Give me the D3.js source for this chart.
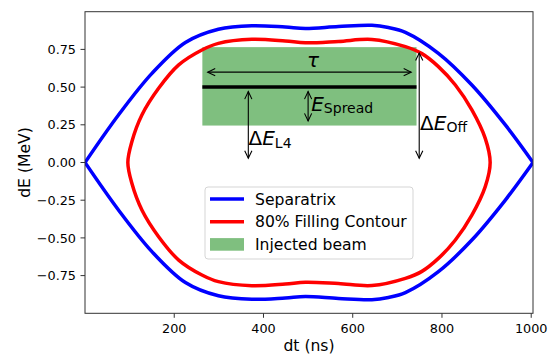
<!DOCTYPE html>
<html>
<head>
<meta charset="utf-8">
<script src="https://cdn.jsdelivr.net/npm/d3@7"></script>
<style>
  body { margin: 0; background: #fff; }
  svg { display: block; font-family: "DejaVu Sans", sans-serif; }
</style>
</head>
<body>
<svg id="chart" width="550" height="355"></svg>
<script>
// separatrix
const sepDt    = [0, 75, 150, 225, 299, 374, 449, 494, 568, 643, 680, 718, 792, 867, 942, 1004];
const sepUpper = [0, 0.315, 0.591, 0.796, 0.884, 0.907, 0.898, 0.889, 0.902, 0.910, 0.895, 0.863, 0.724, 0.514, 0.249, 0];
const sepLower = [0, -0.315, -0.591, -0.796, -0.884, -0.907, -0.898, -0.889, -0.902, -0.910, -0.895, -0.863, -0.724, -0.514, -0.249, 0];

// 80% filling contour
const contDt    = [96, 105, 127.5, 165, 210, 262, 299, 374, 449, 494, 568, 643, 718, 755, 792, 830, 867, 897, 908];
const contUpper = [0, 0.138, 0.315, 0.492, 0.647, 0.746, 0.790, 0.817, 0.806, 0.794, 0.803, 0.816, 0.768, 0.722, 0.636, 0.514, 0.349, 0.16, 0];
const contLower = [0, -0.138, -0.315, -0.492, -0.647, -0.746, -0.790, -0.817, -0.806, -0.794, -0.803, -0.816, -0.768, -0.722, -0.636, -0.514, -0.349, -0.16, 0];

// injected beam
const beamDt = [263, 743];
const beamDE = [0.245, 0.765];
const beamCentre = 0.5;

// annotation arrows [dt1, dE1, dt2, dE2]
const arrows = [
  [275, 0.599, 731, 0.599],   // tau
  [500, 0.470, 500, 0.276],   // E spread
  [366, 0.470, 366, 0.028],   // dE L4
  [749, 0.726, 749, 0.028]    // dE off
];
const labels = [
  {dt: 511, dE: 0.635, main: "τ", sub: "", anchor: "middle", delta: false},
  {dt: 507, dE: 0.342, main: "E", sub: "Spread", anchor: "start", delta: false},
  {dt: 366.5, dE: 0.116, main: "E", sub: "L4", anchor: "start", delta: true},
  {dt: 751, dE: 0.216, main: "E", sub: "Off", anchor: "start", delta: true}
];

const xTicks = [200, 400, 600, 800, 1000];
const yTicks = [-0.75, -0.5, -0.25, 0, 0.25, 0.5, 0.75];
const legendItems = ["Separatrix", "80% Filling Contour", "Injected beam"];

const svg = d3.select("#chart");
const mLeft = 85, mRight = 533, mTop = 11.7, mBottom = 313.3;

const x = d3.scaleLinear().domain([0, 1004]).range([mLeft, mRight]);
const y = d3.scaleLinear().domain([-1, 1]).range([mBottom, mTop]);

svg.append("clipPath").attr("id", "clip")
  .append("rect").attr("x", mLeft).attr("y", mTop).attr("width", mRight - mLeft).attr("height", mBottom - mTop);

const plot = svg.append("g").attr("clip-path", "url(#clip)");

// green beam area
plot.append("rect")
  .attr("x", x(beamDt[0])).attr("y", y(beamDE[1]))
  .attr("width", x(beamDt[1]) - x(beamDt[0]))
  .attr("height", y(beamDE[0]) - y(beamDE[1]))
  .attr("fill", "green").attr("fill-opacity", 0.5);

const line = d3.line().x(d => x(d[0])).y(d => y(d[1])).curve(d3.curveCatmullRom);
const closed = d3.line().x(d => x(d[0])).y(d => y(d[1])).curve(d3.curveCatmullRomClosed);

// separatrix, two branches
[sepUpper, sepLower].forEach(branch => {
  plot.append("path")
    .attr("d", line(sepDt.map((t, i) => [t, branch[i]])))
    .attr("fill", "none").attr("stroke", "#0000ff").attr("stroke-width", 3.5);
});

// filling contour as a closed loop
const loop = contDt.map((t, i) => [t, contUpper[i]])
  .concat(contDt.map((t, i) => [t, contLower[i]]).slice(1, -1).reverse());
plot.append("path")
  .attr("d", closed(loop))
  .attr("fill", "none").attr("stroke", "#ff0000").attr("stroke-width", 3.5);

// beam centre line
plot.append("line")
  .attr("x1", x(beamDt[0])).attr("x2", x(beamDt[1]))
  .attr("y1", y(beamCentre)).attr("y2", y(beamCentre))
  .attr("stroke", "#000").attr("stroke-width", 3.5);

// double headed arrows
function head(g, px, py, ang) {
  const len = 7.5, hw = 3.6;
  const ca = Math.cos(ang), sa = Math.sin(ang);
  const bx = px - len * ca, by = py - len * sa;
  g.append("path")
    .attr("d", `M${bx - hw * sa},${by + hw * ca}L${px},${py}L${bx + hw * sa},${by - hw * ca}`)
    .attr("fill", "none").attr("stroke", "#000").attr("stroke-width", 1.1);
}
arrows.forEach(a => {
  const x1 = x(a[0]), y1 = y(a[1]), x2 = x(a[2]), y2 = y(a[3]);
  const g = svg.append("g");
  g.append("line").attr("x1", x1).attr("y1", y1).attr("x2", x2).attr("y2", y2)
    .attr("stroke", "#000").attr("stroke-width", 1.1);
  const ang = Math.atan2(y2 - y1, x2 - x1);
  head(g, x2, y2, ang);
  head(g, x1, y1, ang + Math.PI);
});

labels.forEach(l => {
  const t = svg.append("text")
    .attr("x", x(l.dt)).attr("y", y(l.dE))
    .attr("text-anchor", l.anchor)
    .attr("font-size", 20).attr("fill", "#000");
  if (l.delta) t.append("tspan").text("Δ");
  t.append("tspan").attr("font-style", "italic").text(l.main);
  if (l.sub) t.append("tspan").attr("font-size", 14).attr("dy", 2.5).text(l.sub);
});

// axes
const axisColor = "#333";
const ax = svg.append("g");
xTicks.forEach(v => {
  ax.append("line").attr("x1", x(v)).attr("x2", x(v)).attr("y1", mBottom).attr("y2", mBottom + 4.5)
    .attr("stroke", axisColor).attr("stroke-width", 1);
  ax.append("text").attr("x", x(v)).attr("y", mBottom + 19.5)
    .attr("text-anchor", "middle").attr("font-size", 12.8).attr("fill", "#000").text(v);
});
yTicks.forEach(v => {
  ax.append("line").attr("x1", mLeft - 4.5).attr("x2", mLeft).attr("y1", y(v)).attr("y2", y(v))
    .attr("stroke", axisColor).attr("stroke-width", 1);
  ax.append("text").attr("x", mLeft - 9).attr("y", y(v)).attr("dy", "0.36em")
    .attr("text-anchor", "end").attr("font-size", 12.8).attr("fill", "#000")
    .text(d3.format(".2f")(v).replace("-", "\u2212"));
});
ax.append("rect").attr("x", mLeft).attr("y", mTop).attr("width", mRight - mLeft).attr("height", mBottom - mTop)
  .attr("fill", "none").attr("stroke", axisColor).attr("stroke-width", 1);

svg.append("text").attr("x", (mLeft + mRight) / 2).attr("y", 351)
  .attr("text-anchor", "middle").attr("font-size", 15.6).text("dt (ns)");
svg.append("text").attr("transform", `translate(30,${(mTop + mBottom) / 2}) rotate(-90)`)
  .attr("text-anchor", "middle").attr("font-size", 15.6).text("dE (MeV)");

// legend
const lg = svg.append("g").attr("transform", "translate(205,187)");
lg.append("rect").attr("width", 208).attr("height", 72).attr("rx", 3)
  .attr("fill", "#fff").attr("fill-opacity", 0.8).attr("stroke", "#d5d5d5").attr("stroke-width", 1);
const swatch = [
  g => g.append("line").attr("x1", 5).attr("x2", 39).attr("stroke", "#0000ff").attr("stroke-width", 3.5),
  g => g.append("line").attr("x1", 5).attr("x2", 39).attr("stroke", "#ff0000").attr("stroke-width", 3.5),
  g => g.append("rect").attr("x", 5).attr("y", -6.3).attr("width", 34).attr("height", 12.6)
        .attr("fill", "green").attr("fill-opacity", 0.5)
];
legendItems.forEach((name, i) => {
  const g = lg.append("g").attr("transform", `translate(0,${12 + i * 22.7})`);
  swatch[i](g);
  g.append("text").attr("x", 50).attr("dy", "0.36em").attr("font-size", 15.6).text(name);
});
</script>
</body>
</html>
